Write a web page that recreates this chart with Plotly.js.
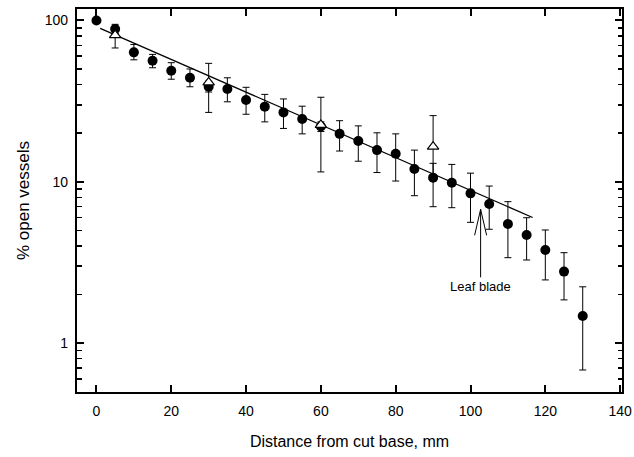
<!DOCTYPE html>
<html>
<head>
<meta charset="utf-8">
<script src="https://cdn.plot.ly/plotly-3.0.1.min.js"></script>
<style>html,body{margin:0;padding:0;background:#fff;}#chart{width:634px;height:457px;}</style>
</head>
<body>
<div id="chart"></div>
<script>
// Filled circles: distance (mm), % open vessels, error-bar bounds
const distFilled = [0, 5, 10, 15, 20, 25, 30, 35, 40, 45, 50, 55, 60, 65, 70, 75, 80, 85, 90, 95, 100, 105, 110, 115, 120, 125, 130];
const openFilled = [100, 88.5, 63.4, 56.3, 48.8, 44.1, 38.8, 37.6, 32.1, 29.2, 26.9, 24.5, 22.0, 19.8, 17.9, 15.7, 14.9, 12.0, 10.6, 9.86, 8.47, 7.27, 5.47, 4.67, 3.77, 2.77, 1.47];
const upperFilled = [100, 94.6, 71, 61.6, 54.7, 50, 42, 44.1, 38.5, 34.8, 32.6, 29.4, 23.5, 23.9, 22.2, 20.1, 19.8, 15.7, 13.0, 12.8, 11.3, 9.4, 7.52, 5.98, 5.02, 3.63, 2.23];
const lowerFilled = [100, 83, 57, 50.9, 43.2, 38.8, 36, 31.3, 26.2, 23.5, 21.4, 19.8, 20.5, 15.5, 13.4, 11.4, 10.1, 8.19, 7.0, 6.9, 5.6, 5.07, 3.38, 3.27, 2.46, 1.85, 0.68];

// Open triangles
const distOpen = [5, 30, 60, 90];
const openOpen = [81, 41.3, 22.5, 16.5];
const upperOpen = [81, 54.2, 33.4, 25.7];
const lowerOpen = [67.5, 26.9, 11.5, 10.5];

// Regression line end points
const fitX = [1, 116.6];
const fitY = [89.3, 6.0];

// Leaf blade arrow target
const leafX = 102.7;
const leafY = 6.74;
const leafText = 'Leaf blade';

const xTitle = 'Distance from cut base, mm';
const yTitle = '% open vessels';

// tick values and labels
const xTickStep = 20;
const yMajorVals = [1, 10, 100];
const yMajorText = ['1', '10', '100'];
const yMinorVals = [0.5, 0.6, 0.7, 0.8, 0.9, 2, 3, 4, 5, 6, 7, 8, 9, 20, 30, 40, 50, 60, 70, 80, 90];

const plus = (u, v) => u.map((a, i) => a - v[i]);
const minus = (l, v) => v.map((a, i) => a - l[i]);

const FONT = 'Liberation Sans, Arial, sans-serif';
const XRANGE = [-5.2, 140.5];
const YRANGE = [-0.304, 2.071];

const traces = [
  {
    x: fitX, y: fitY, mode: 'lines', type: 'scatter',
    line: {color: '#000', width: 1.3}, hoverinfo: 'skip'
  },
  {
    x: distFilled, y: openFilled, mode: 'markers', type: 'scatter',
    marker: {symbol: 'circle', size: 10, color: '#000'},
    error_y: {type: 'data', symmetric: false, array: plus(upperFilled, openFilled), arrayminus: minus(lowerFilled, openFilled),
      color: '#000', thickness: 1, width: 3.5}
  },
  {
    x: distOpen, y: openOpen, mode: 'markers', type: 'scatter',
    marker: {symbol: 'triangle-up', size: 10, color: '#fff', line: {color: '#000', width: 1.2}},
    error_y: {type: 'data', symmetric: false, array: plus(upperOpen, openOpen), arrayminus: minus(lowerOpen, openOpen),
      color: '#000', thickness: 1, width: 3.5}
  },
  // invisible traces that carry the overlay axes (minor ticks; labels)
  {x: [distFilled[0]], y: [openFilled[0]], xaxis: 'x', yaxis: 'y2', mode: 'markers', marker: {opacity: 0}, hoverinfo: 'skip'},
  {x: [distFilled[0]], y: [openFilled[0]], xaxis: 'x2', yaxis: 'y3', mode: 'markers', marker: {opacity: 0}, hoverinfo: 'skip'}
];

const layout = {
  width: 634, height: 457,
  margin: {l: 77, r: 12, t: 9, b: 65},
  paper_bgcolor: '#fff', plot_bgcolor: '#fff',
  showlegend: false,
  font: {family: FONT, color: '#000', size: 14},
  // main axes: frame + ticks
  xaxis: {
    range: XRANGE, dtick: xTickStep, tick0: 0,
    showgrid: false, zeroline: false, showticklabels: false,
    showline: true, linecolor: '#000', linewidth: 2, mirror: 'ticks',
    ticks: 'inside', ticklen: 7, tickwidth: 2, tickcolor: '#000'
  },
  yaxis: {
    type: 'log', range: YRANGE,
    tickmode: 'array', tickvals: yMajorVals,
    showgrid: false, zeroline: false, showticklabels: false,
    showline: true, linecolor: '#000', linewidth: 2, mirror: 'ticks',
    ticks: 'inside', ticklen: 7, tickwidth: 2, tickcolor: '#000'
  },
  // minor ticks
  yaxis2: {
    type: 'log', range: YRANGE, overlaying: 'y', side: 'left',
    tickmode: 'array', tickvals: yMinorVals, showticklabels: false,
    showgrid: false, zeroline: false, showline: false, mirror: 'ticks',
    ticks: 'inside', ticklen: 4.5, tickwidth: 1.5, tickcolor: '#000'
  },
  // labels + titles
  xaxis2: {
    range: XRANGE, dtick: xTickStep, tick0: 0, overlaying: 'x', side: 'bottom',
    showgrid: false, zeroline: false, showline: false, ticks: '',
    ticklabelstandoff: 9,
    tickfont: {family: FONT, size: 14, color: '#000'},
    title: {text: xTitle, font: {family: FONT, size: 16, color: '#000'}, standoff: 17}
  },
  yaxis3: {
    type: 'log', range: YRANGE, overlaying: 'y', side: 'left',
    tickmode: 'array', tickvals: yMajorVals, ticktext: yMajorText,
    showgrid: false, zeroline: false, showline: false, ticks: '',
    ticklabelstandoff: 8,
    tickfont: {family: FONT, size: 14, color: '#000'},
    title: {text: yTitle, font: {family: FONT, size: 17, color: '#000'}, standoff: 10}
  },
  annotations: [{
    x: leafX, y: Math.log10(leafY), xref: 'x', yref: 'y',
    text: leafText, showarrow: true, arrowhead: 0, arrowwidth: 1, arrowcolor: '#000',
    ax: 0, ay: 77, font: {family: FONT, size: 13, color: '#000'}
  }],
  shapes: [{
    type: 'path', xref: 'x', yref: 'y', xsizemode: 'pixel', ysizemode: 'pixel',
    xanchor: leafX, yanchor: leafY,
    path: 'M-6,-26 L0,0 L6,-26', line: {color: '#000', width: 1}
  }]
};

Plotly.newPlot('chart', traces, layout, {displayModeBar: false, staticPlot: true});
</script>
</body>
</html>
